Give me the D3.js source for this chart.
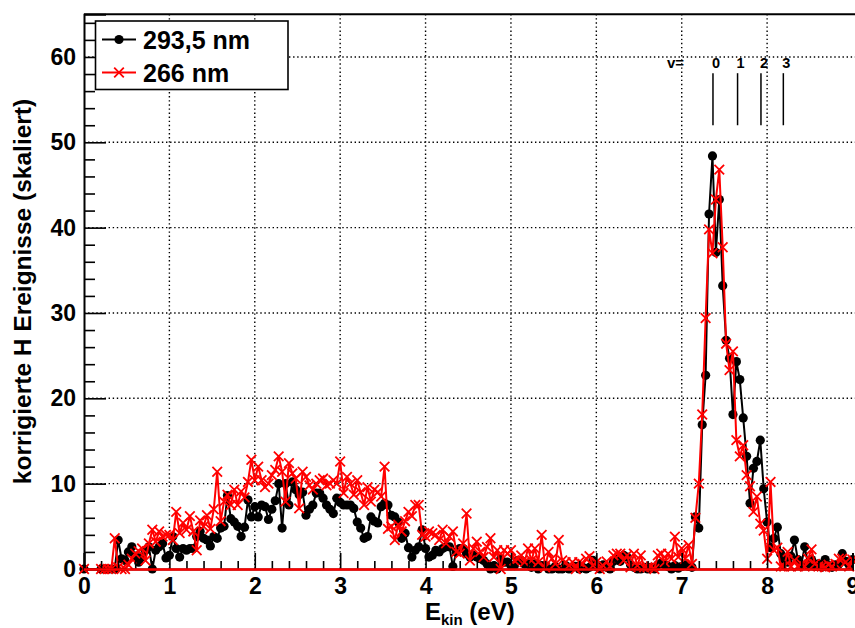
<!DOCTYPE html>
<html><head><meta charset="utf-8">
<script src="https://cdn.jsdelivr.net/npm/d3@7"></script>
<style>
body{margin:0;background:#fff}
text{font-family:"Liberation Sans",Arial,Helvetica,sans-serif;font-weight:bold}
</style>
</head><body>
<svg id="chart" width="855" height="628"></svg>
<script>
// ---------- data ----------
// kinetic-energy bin centres (eV): first point at 0, then 0.20 ... 9.00 in 0.04 eV bins
const energies = [0].concat(d3.range(5, 226).map(i => +(i * 0.04).toFixed(2)));

// 293,5 nm (black)
const values293 = [0,
  0,0,0,0,0,3.4,1.2,1.0,2.0,2.6,1.5,0.8,1.4,2.2,2.6,0.0,2.2,2.6,3.0,1.3,
  1.6,3.8,2.4,1.4,2.4,2.2,2.4,2.4,3.8,4.4,3.6,3.4,2.7,3.8,3.6,4.8,5.0,8.6,5.9,5.5,5.0,3.8,4.9,8.1,6.1,
  7.3,6.1,7.5,7.3,5.8,7.0,8.0,10.0,4.8,10.0,7.5,10.2,9.3,8.7,9.0,6.3,7.0,7.5,8.9,8.9,8.3,7.5,7.0,6.5,8.3,
  7.8,7.5,7.5,7.5,7.1,5.5,4.8,3.6,3.8,6.1,5.6,5.4,7.3,7.7,7.5,6.3,6.1,5.5,3.6,4.2,2.5,1.4,2.2,2.6,4.6,
  2.4,1.4,1.6,2.2,2.0,2.4,2.6,2.6,0.3,2.0,2.4,2.4,1.8,1.4,1.6,1.4,1.2,1.0,0.6,0.0,0.4,0.0,1.2,0.8,0.8,
  0.4,0.4,1.0,1.0,0.6,0.6,0.2,0.6,0.0,0.4,0.4,0.0,0.0,0.3,0.0,0.0,0.4,0.0,0.2,0.3,0.0,0.2,0.0,0.2,1.0,
  0.3,0.0,0.5,0.2,0.0,0.9,1.2,0.9,1.6,1.4,0.5,0.2,0.0,0.0,0.2,0.0,0.2,0.0,0.5,0.7,0.5,0.3,0.0,0.4,0.1,
  0.3,0.5,0.3,0.2,6.1,4.8,16.9,22.7,41.6,48.4,37.1,43.3,33.2,26.8,24.7,18.1,24.3,22.2,17.7,13.2,7.7,11.8,12.6,15.1,9.4,
  5.5,2.5,3.6,4.9,1.8,1.1,0.8,1.5,3.4,1.1,0.5,2.6,0.6,1.1,0.3,0.6,0.2,1.1,0.4,0.2,0.5,0.6,1.8,0.9,0.5,
  1.1];

// 266 nm (red)
const values266 = [0,
  0,0,0,0,3.6,0.2,0,0,0.5,1.2,1.8,2.1,2.4,1.0,3.0,4.6,3.2,4.4,3.8,4.0,
  4.0,3.4,6.7,4.2,5.4,4.6,6.2,4.4,2.2,5.7,5.0,6.3,4.7,7.0,11.4,5.6,7.9,8.7,7.5,9.3,7.5,9.1,8.4,10.2,12.8,
  10.4,12.0,10.4,9.6,10.0,11.0,11.6,13.2,11.4,7.9,12.4,11.2,10.6,7.1,11.4,10.8,9.8,9.3,10.0,10.4,10.6,9.8,10.0,10.4,10.0,
  12.6,8.9,10.8,10.0,8.7,10.4,9.0,7.5,9.6,7.9,9.3,9.0,8.5,12.0,4.7,5.0,3.4,5.2,4.4,5.6,6.7,6.2,7.5,7.5,4.0,
  3.8,4.4,4.2,4.0,3.4,4.6,3.0,3.8,4.4,2.0,1.8,3.0,6.5,1.0,2.4,3.2,2.0,1.4,2.6,3.6,1.4,2.2,0.0,2.2,1.8,
  2.2,1.0,1.2,1.6,0.8,2.4,1.0,2.4,0.8,4.0,0.2,2.0,1.2,0.6,3.4,1.0,0.8,0.4,0.8,0.0,0.8,0.6,1.2,1.5,0.4,
  0.8,0.0,0.4,0.9,0.3,1.6,1.8,1.8,1.0,1.6,0.2,1.8,0.4,1.6,0.2,0.2,0.3,0.0,1.6,1.8,0.8,1.8,1.2,3.8,1.4,
  2.4,1.2,2.8,0.6,6.0,10.0,18.1,29.4,39.8,37.0,43.3,46.8,37.7,26.4,23.3,25.5,15.1,13.2,14.5,11.0,9.7,6.7,8.5,5.3,4.5,
  1.2,10.2,2.2,2.5,0.3,0.3,2.0,0.3,1.0,0.3,0.6,0.3,1.2,2.3,0.6,0.3,0.3,0.2,0.5,0.3,0.6,1.2,1.2,0.8,0.3,
  1.1];

const seriesNames = ["293,5 nm", "266 nm"];
const xTicks = [0,1,2,3,4,5,6,7,8,9];
const yTicks = [0,10,20,30,40,50,60];
const vibLabels = ["0","1","2","3"];
const vibEnergies = [7.366, 7.654, 7.928, 8.19];
const xTitle = "E", xTitleSub = "kin", xTitleUnit = "(eV)";
const yTitle = "korrigierte H Ereignisse (skaliert)";

// ---------- layout ----------
const svg = d3.select("#chart");
const x = d3.scaleLinear().domain([0, 9]).range([84, 852.5]);
const y = d3.scaleLinear().domain([0, 65]).range([569, 14.3]);

// grid
const grid = svg.append("g").attr("stroke", "#000").attr("stroke-width", 1.4)
  .attr("stroke-dasharray", "1.4,2.7");
grid.selectAll(".gx").data(xTicks.filter(d => d > 0 && d < 9)).join("line")
  .attr("x1", d => x(d)).attr("x2", d => x(d)).attr("y1", y(0)).attr("y2", y(65));
grid.selectAll(".gy").data(yTicks.filter(d => d > 0)).join("line")
  .attr("y1", d => y(d)).attr("y2", d => y(d)).attr("x1", x(0)).attr("x2", 856);

// series
function drawSeries(vals, color, marker) {
  const pts = energies.map((e, i) => [e, vals[i]]);
  const g = svg.append("g");
  g.append("path").datum(pts)
    .attr("fill", "none").attr("stroke", color).attr("stroke-width", 2)
    .attr("stroke-linejoin", "round")
    .attr("d", d3.line().x(d => x(d[0])).y(d => y(d[1])));
  if (marker === "circle") {
    g.selectAll("circle").data(pts).join("circle")
      .attr("cx", d => x(d[0])).attr("cy", d => y(d[1])).attr("r", 4.6).attr("fill", color);
  } else {
    const s = 4.8;
    g.selectAll("path.m").data(pts).join("path").attr("class", "m")
      .attr("d", d => `M${x(d[0])-s},${y(d[1])-s}L${x(d[0])+s},${y(d[1])+s}M${x(d[0])-s},${y(d[1])+s}L${x(d[0])+s},${y(d[1])-s}`)
      .attr("stroke", color).attr("stroke-width", 1.8).attr("fill", "none");
  }
}
drawSeries(values293, "#000", "circle");
drawSeries(values266, "#ff0000", "cross");

// axes
const yMinor = d3.range(0, 66, 2).filter(d => d % 10 !== 0);
const xMinor = d3.range(0, 91, 2).map(d => d / 10).filter(d => Math.abs(d - Math.round(d)) > 1e-6);

svg.append("g").attr("transform", `translate(${x(0)},0)`)
  .call(d3.axisLeft(y).tickValues(yTicks).tickSize(-22).tickPadding(8).tickFormat(d3.format("d")));
svg.append("g").attr("transform", `translate(${x(0)},0)`)
  .call(d3.axisLeft(y).tickValues(yMinor).tickSize(-11).tickFormat(""))
  .call(g => g.select(".domain").remove());
svg.append("g").attr("transform", `translate(0,${y(0)})`)
  .call(d3.axisBottom(x).tickValues(xTicks).tickSize(-16).tickPadding(9).tickFormat(d3.format("d")));
svg.append("g").attr("transform", `translate(0,${y(0)})`)
  .call(d3.axisBottom(x).tickValues(xMinor).tickSize(-8).tickFormat(""))
  .call(g => g.select(".domain").remove());

svg.selectAll(".tick line").attr("stroke", "#000").attr("stroke-width", 1.6);
svg.selectAll(".domain").attr("stroke", "#000").attr("stroke-width", 2);
svg.selectAll(".tick text").attr("font-size", 23).attr("fill", "#000")
  .attr("font-family", "'Liberation Sans',Arial,sans-serif").attr("font-weight", "bold");

// top frame line
svg.append("line").attr("x1", x(0)).attr("x2", 856).attr("y1", y(65)).attr("y2", y(65))
  .attr("stroke", "#000").attr("stroke-width", 2);

// red zero line
svg.append("line").attr("x1", x(0)).attr("x2", x(9)).attr("y1", y(0) + 0.5).attr("y2", y(0) + 0.5)
  .attr("stroke", "#ff0000").attr("stroke-width", 2.4);

// vibrational level markers
const vib = svg.append("g");
vib.append("text").attr("x", 667).attr("y", 68).attr("font-size", 15).text("v=");
vib.selectAll("line").data(vibEnergies).join("line")
  .attr("x1", d => x(d)).attr("x2", d => x(d)).attr("y1", y(58.1)).attr("y2", y(52.0))
  .attr("stroke", "#000").attr("stroke-width", 1.5);
vib.selectAll("text.v").data(vibEnergies).join("text").attr("class", "v")
  .attr("x", d => x(d) + 3).attr("y", 68).attr("text-anchor", "middle").attr("font-size", 14.5)
  .text((d, i) => vibLabels[i]);

// axis titles
const xt = svg.append("text").attr("x", 425).attr("y", 620).attr("font-size", 24);
xt.append("tspan").text(xTitle);
xt.append("tspan").attr("dy", 5).attr("font-size", 15).text(xTitleSub);
xt.append("tspan").attr("dy", -5).text(" " + xTitleUnit);

svg.append("text").attr("transform", "translate(31,291.5) rotate(-90)")
  .attr("text-anchor", "middle").attr("font-size", 24.5).text(yTitle);

// legend
const lg = svg.append("g");
lg.append("rect").attr("x", 95.5).attr("y", 21).attr("width", 192.5).attr("height", 68.5)
  .attr("fill", "#fff").attr("stroke", "#000").attr("stroke-width", 1.6);
const rows = [39.5, 72.5];
lg.append("line").attr("x1", 102).attr("x2", 136).attr("y1", rows[0]).attr("y2", rows[0])
  .attr("stroke", "#000").attr("stroke-width", 2);
lg.append("circle").attr("cx", 119).attr("cy", rows[0]).attr("r", 4.6).attr("fill", "#000");
lg.append("line").attr("x1", 102).attr("x2", 136).attr("y1", rows[1]).attr("y2", rows[1])
  .attr("stroke", "#ff0000").attr("stroke-width", 2);
lg.append("path").attr("d", `M114.2,${rows[1]-4.8}L123.8,${rows[1]+4.8}M114.2,${rows[1]+4.8}L123.8,${rows[1]-4.8}`)
  .attr("stroke", "#ff0000").attr("stroke-width", 1.8);
lg.selectAll("text").data(seriesNames).join("text")
  .attr("x", 143).attr("y", (d, i) => rows[i] + 9).attr("font-size", 25).text(d => d);
</script>
</body></html>
